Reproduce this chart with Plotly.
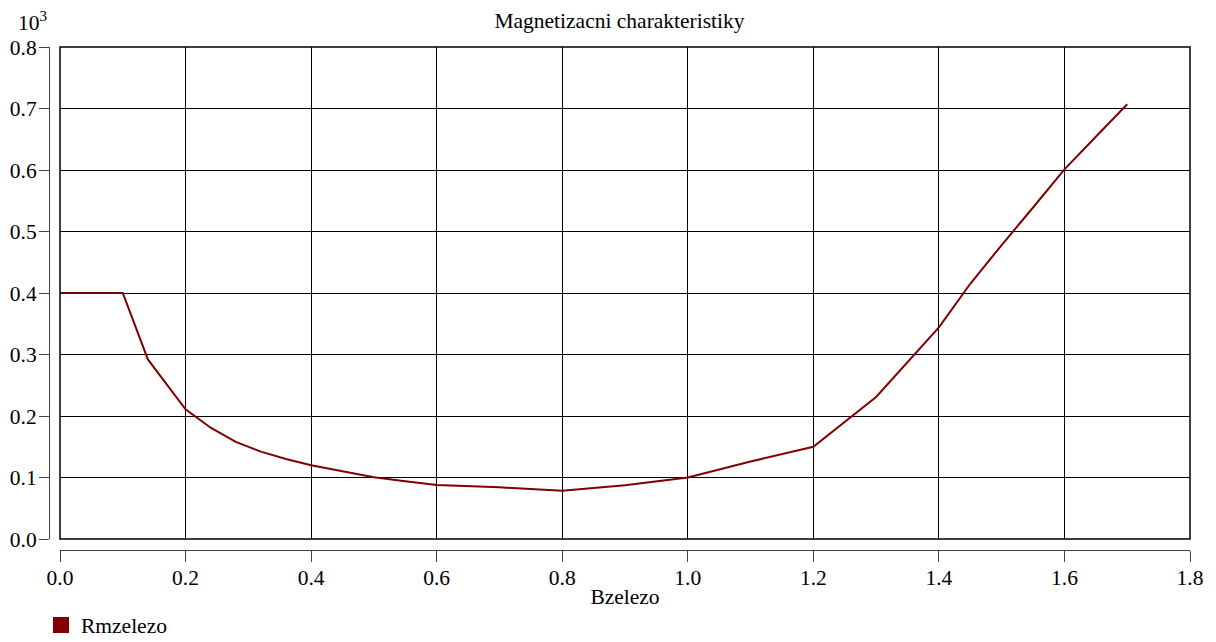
import plotly.graph_objects as go

# Data
b_zelezo = [0.0, 0.1, 0.14, 0.2, 0.24, 0.28, 0.32, 0.36, 0.4, 0.45, 0.5, 0.55, 0.6,
            0.7, 0.8, 0.9, 1.0, 1.1, 1.2, 1.3, 1.4, 1.45, 1.5, 1.55, 1.6, 1.65, 1.7]
rm_zelezo = [400, 400, 292, 211, 181, 158, 142, 130, 120, 110, 100.5, 94, 88,
             84, 78.5, 87.5, 100, 126, 150, 231, 344, 415, 478, 539, 601, 654, 707]

x_ticks = [0.0, 0.2, 0.4, 0.6, 0.8, 1.0, 1.2, 1.4, 1.6, 1.8]
x_tick_labels = ["0.0", "0.2", "0.4", "0.6", "0.8", "1.0", "1.2", "1.4", "1.6", "1.8"]
y_ticks = [0, 100, 200, 300, 400, 500, 600, 700, 800]
y_tick_labels = ["0.0", "0.1", "0.2", "0.3", "0.4", "0.5", "0.6", "0.7", "0.8"]

series_name = "Rmzelezo"
line_color = "#800000"
font_family = "'Liberation Serif', 'Times New Roman', Times, serif"
fs = 21.5

fig = go.Figure()
fig.add_trace(go.Scatter(
    x=b_zelezo, y=rm_zelezo, mode="lines",
    line=dict(color=line_color, width=2),
    showlegend=False, name=series_name,
))
fig.add_trace(go.Scatter(
    x=[None], y=[None], mode="markers", name=series_name,
    marker=dict(symbol="square", size=16, color=line_color),
    showlegend=True,
))

fig.update_layout(
    width=1216, height=642,
    margin=dict(l=49, r=26, t=47, b=92, autoexpand=False),
    paper_bgcolor="white", plot_bgcolor="white",
    font=dict(family=font_family, size=fs, color="black"),
    title=dict(text="Magnetizacni charakteristiky", x=0.5, xref="paper",
               y=1 - 20 / 642, yanchor="middle",
               font=dict(family=font_family, size=fs)),
    legend=dict(x=41 / 1216, xref="container", xanchor="left",
                y=1 - 625 / 642, yref="container", yanchor="middle",
                font=dict(family=font_family, size=fs), bgcolor="rgba(0,0,0,0)"),
    xaxis=dict(
        domain=[11 / 1141, 1], range=[0, 1.8], anchor="free", position=0,
        tickvals=x_ticks, ticktext=x_tick_labels,
        tickfont=dict(family=font_family, size=fs),
        showline=True, linecolor="#444", linewidth=1,
        ticks="outside", ticklen=11, tickcolor="#444", ticklabelstandoff=-3,
        showgrid=True, gridcolor="black", gridwidth=1, zeroline=False,
        title=dict(text="Bzelezo", standoff=0, font=dict(family=font_family, size=fs)),
    ),
    yaxis=dict(
        domain=[11 / 503, 1], range=[0, 800], anchor="free", position=0,
        tickvals=y_ticks, ticktext=y_tick_labels,
        tickfont=dict(family=font_family, size=fs),
        showline=True, linecolor="#444", linewidth=1,
        ticks="outside", ticklen=10, tickcolor="#444", ticklabelstandoff=-2,
        showgrid=True, gridcolor="black", gridwidth=1, zeroline=False,
    ),
    shapes=[dict(type="rect", xref="x domain", yref="y domain",
                 x0=0, x1=1, y0=0, y1=1, line=dict(color="black", width=1.5),
                 layer="above")],
    annotations=[dict(text="10<sup>3</sup>", xref="paper", yref="paper",
                      x=0, y=1, xanchor="right", yanchor="bottom", yshift=10,
                      showarrow=False, font=dict(family=font_family, size=fs))],
)

fig.write_html("out.html")
